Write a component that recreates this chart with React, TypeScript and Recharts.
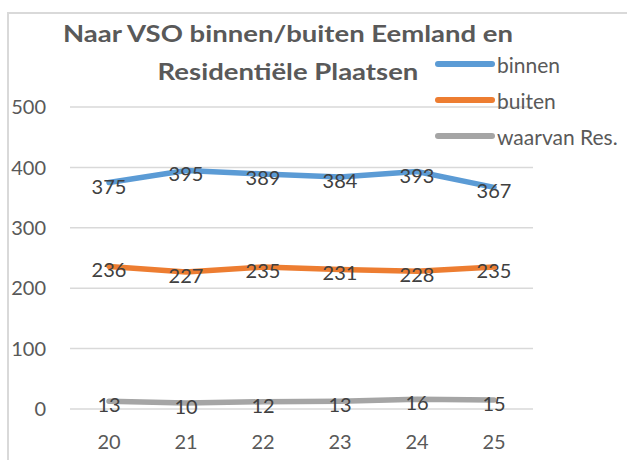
import React from 'react';
import { LineChart, Line, XAxis, YAxis, CartesianGrid, Legend } from 'recharts';

const categories = ['20', '21', '22', '23', '24', '25'];
const binnen = [375, 395, 389, 384, 393, 367];
const buiten = [236, 227, 235, 231, 228, 235];
const waarvanRes = [13, 10, 12, 13, 16, 15];
const yTicks = [0, 100, 200, 300, 400, 500];
const titleLines = ['Naar VSO binnen/buiten Eemland en', 'Residentiële Plaatsen'];

const data = categories.map((c, i) => ({
  cat: c,
  binnen: binnen[i],
  buiten: buiten[i],
  res: waarvanRes[i],
}));

const FONT = 'Lato, "Open Sans", sans-serif';
const TEXT = '#595959';

const renderLabel = (props: any) => {
  const { x, y, value } = props;
  return (
    <text x={x} y={y + 3} fill="#404040" fontSize={20} fontFamily={FONT} textAnchor="middle" dominantBaseline="central">
      {value}
    </text>
  );
};

const LegendContent = (props: any) => {
  const { payload } = props;
  return (
    <div style={{ fontFamily: FONT }}>
      {(payload || []).map((p: any, i: number) => (
        <div key={i} style={{ display: 'flex', alignItems: 'center', height: 36 }}>
          <svg width={60} height={10}>
            <line x1={3} y1={5} x2={57} y2={5} stroke={p.color} strokeWidth={6} strokeLinecap="round" />
          </svg>
          <span style={{ color: TEXT, fontSize: 21, marginLeft: 2, whiteSpace: 'nowrap' }}>{p.value}</span>
        </div>
      ))}
    </div>
  );
};

export default function App() {
  return (
    <div style={{ position: 'absolute', left: 0, top: 0, width: 627, height: 460, background: '#fff', overflow: 'hidden' }}>
      <div style={{ position: 'absolute', left: 7, top: 12, width: 640, height: 470, borderLeft: '2px solid #d9d9d9', borderTop: '2px solid #d9d9d9' }} />
      <div style={{ position: 'absolute', left: 88, width: 400, top: 15, textAlign: 'center', fontFamily: FONT, fontWeight: 700, fontSize: 22, lineHeight: '38px', color: TEXT, whiteSpace: 'nowrap', transform: 'scaleX(1.25)', transformOrigin: '200px 0' }}>
        {titleLines.map((t, i) => (
          <div key={i}>{t}</div>
        ))}
      </div>
      <LineChart width={627} height={460} data={data} margin={{ top: 107, right: 94, bottom: 10, left: 10 }} style={{ position: 'absolute', left: 0, top: 0 }}>
        <CartesianGrid vertical={false} stroke="#d9d9d9" strokeWidth={1.5} />
        <XAxis dataKey="cat" axisLine={false} tickLine={false} tickSize={0} tickMargin={26} height={41} padding={{ left: 39, right: 39 }} tick={{ fill: TEXT, fontSize: 20, fontFamily: FONT }} />
        <YAxis domain={[0, 500]} ticks={yTicks} axisLine={false} tickLine={false} tickSize={0} tickMargin={24} width={60} tick={{ fill: TEXT, fontSize: 20, fontFamily: FONT }} />
        <Legend layout="vertical" align="center" verticalAlign="middle" content={LegendContent} wrapperStyle={{ left: 435, top: 46, width: 200 }} />
        <Line type="linear" dataKey="binnen" name="binnen" stroke="#5B9BD5" strokeWidth={5.5} strokeLinecap="round" dot={false} isAnimationActive={false} label={renderLabel} />
        <Line type="linear" dataKey="buiten" name="buiten" stroke="#ED7D31" strokeWidth={5.5} strokeLinecap="round" dot={false} isAnimationActive={false} label={renderLabel} />
        <Line type="linear" dataKey="res" name="waarvan Res." stroke="#A5A5A5" strokeWidth={5.5} strokeLinecap="round" dot={false} isAnimationActive={false} label={renderLabel} />
      </LineChart>
    </div>
  );
}
